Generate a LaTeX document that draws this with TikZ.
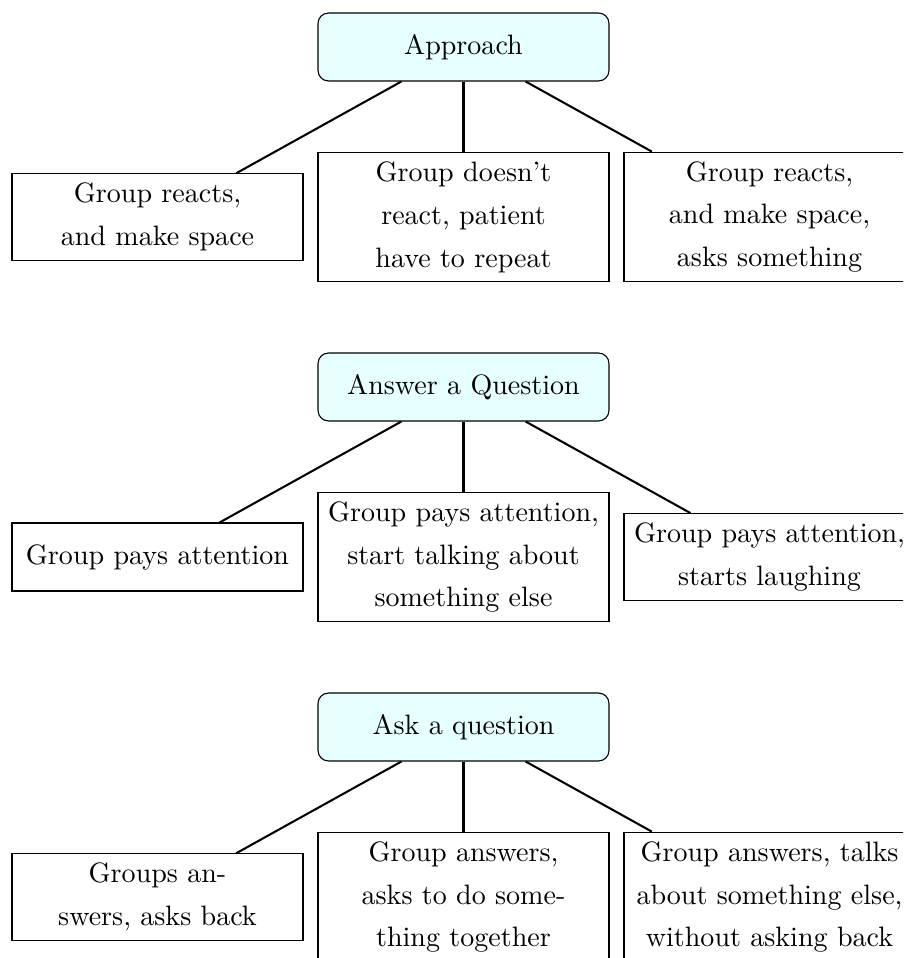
\documentclass[tikz,border=0pt]{standalone}
\definecolor{headfill}{RGB}{230,255,255}
\tikzset{
  basebox/.style={draw, line width=0.4pt, align=center, minimum width=105.8pt,
    minimum height=24.7pt, inner sep=3.33pt,
    font=\fontsize{10.2}{15.6}\selectfont},
  headbox/.style={basebox, rounded corners=3.8pt, fill=headfill},
  leafbox/.style={basebox},
  link/.style={draw, line width=0.75pt}
}
\begin{document}
\begin{tikzpicture}[x=0.36364pt, y=-0.36364pt]
\useasboundingbox (0,0) rectangle (903,958);
\clip (0,0) rectangle (903,958);
% row 1
\node[headbox] (p1) at (463.5,47) {Approach};
\node[leafbox] (a1) at (157.5,217) {Group reacts,\\and make space};
\node[leafbox] (a2) at (463.5,217) {Group doesn't\\react, patient\\have to repeat};
\node[leafbox] (a3) at (769.5,217) {Group reacts,\\and make space,\\asks something};
\draw[link] (p1) -- (a1);
\draw[link] (p1) -- (a2);
\draw[link] (p1) -- (a3);
% row 2
\node[headbox] (p2) at (463.5,387) {Answer a Question};
\node[leafbox] (b1) at (157.5,557) {Group pays attention};
\node[leafbox] (b2) at (463.5,557) {Group pays attention,\\start talking about\\something else};
\node[leafbox] (b3) at (769.5,557) {Group pays attention,\\starts laughing};
\draw[link] (p2) -- (b1);
\draw[link] (p2) -- (b2);
\draw[link] (p2) -- (b3);
% row 3
\node[headbox] (p3) at (463.5,727) {Ask a question};
\node[leafbox] (c1) at (157.5,897) {Groups an-\\swers, asks back};
\node[leafbox] (c2) at (463.5,897) {Group answers,\\asks to do some-\\thing together};
\node[leafbox] (c3) at (769.5,897) {Group answers, talks\\about something else,\\without asking back};
\draw[link] (p3) -- (c1);
\draw[link] (p3) -- (c2);
\draw[link] (p3) -- (c3);
\end{tikzpicture}
\end{document}
